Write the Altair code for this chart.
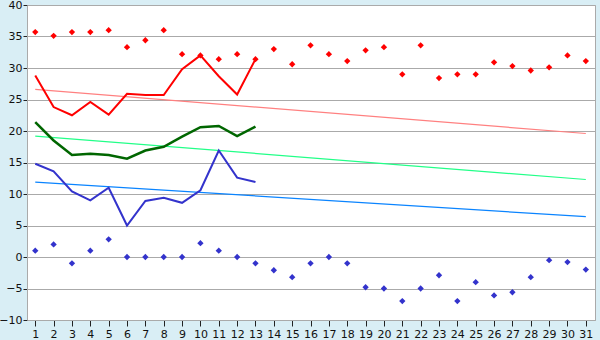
import altair as alt
import pandas as pd

days = list(range(1, 32))
rec_max = [35.7, 35.1, 35.7, 35.7, 36.0, 33.3, 34.4, 36.0, 32.2, 32.0, 31.4, 32.2, 31.4,
           33.0, 30.6, 33.6, 32.2, 31.1, 32.8, 33.3, 29.0, 33.6, 28.4, 29.0, 29.0, 30.9,
           30.3, 29.6, 30.1, 32.0, 31.1]
rec_min = [1.0, 2.0, -1.0, 1.0, 2.8, 0.0, 0.0, 0.0, 0.0, 2.2, 1.0, 0.0, -1.0,
           -2.1, -3.2, -1.0, 0.0, -1.0, -4.8, -5.0, -7.0, -5.0, -2.9, -7.0, -4.0, -6.1,
           -5.6, -3.2, -0.5, -0.8, -2.0]
obs_days = list(range(1, 14))
obs_max = [28.8, 23.8, 22.5, 24.6, 22.6, 25.9, 25.7, 25.7, 29.8, 32.0, 28.7, 25.8, 31.4]
obs_mean = [21.4, 18.5, 16.2, 16.4, 16.2, 15.6, 16.9, 17.5, 19.1, 20.6, 20.8, 19.2, 20.7]
obs_min = [14.8, 13.6, 10.4, 9.0, 11.0, 5.0, 8.9, 9.4, 8.6, 10.6, 16.9, 12.6, 11.9]
trend_days = [1, 31]
trend_max = [26.6, 19.6]
trend_mean = [19.2, 12.3]
trend_min = [11.9, 6.4]

xs = alt.Scale(domain=[0.55, 31.5], nice=False, zero=False)
ys = alt.Scale(domain=[-10, 40], nice=False, zero=False)
xax = alt.Axis(values=days, grid=False, domain=True, domainColor="#AAAAAA", ticks=True,
               tickColor="#222222", tickSize=6, labelFont="DejaVu Sans", labelFontSize=11,
               labelColor="#111111", labelPadding=2, title=None, labelFlush=False)
yax = alt.Axis(values=list(range(-10, 45, 5)), grid=True, gridColor="#AAAAAA", domain=True,
               domainColor="#AAAAAA", ticks=True, tickColor="#222222", tickSize=4,
               labelFont="DejaVu Sans", labelFontSize=11, labelColor="#111111",
               labelPadding=1, title=None, format="d")

X = alt.X("day:Q", scale=xs, axis=xax)
Y = alt.Y("v:Q", scale=ys, axis=yax)


def df(x, y):
    return pd.DataFrame({"day": x, "v": y})


layers = []
# trend lines
for vals, col in [(trend_max, "#FF8080"), (trend_mean, "#22FF88"), (trend_min, "#0A84FF")]:
    layers.append(alt.Chart(df(trend_days, vals)).mark_line(color=col, strokeWidth=1.2)
                  .encode(x=X, y=Y))
# observed lines
for vals, col, w in [(obs_max, "#FF0000", 2), (obs_mean, "#006600", 2.5), (obs_min, "#3333CC", 2)]:
    layers.append(alt.Chart(df(obs_days, vals)).mark_line(color=col, strokeWidth=w)
                  .encode(x=X, y=Y))
# record points
for vals, col in [(rec_max, "#FF0000"), (rec_min, "#3333CC")]:
    layers.append(alt.Chart(df(days, vals)).mark_point(shape="diamond", filled=True, size=40,
                                                       color=col, opacity=1)
                  .encode(x=X, y=Y))

chart = alt.layer(*layers).properties(
    width=568, height=315,
    autosize=alt.AutoSizeParams(type="none"),
    padding={"left": 27, "top": 5, "right": 5, "bottom": 20},
    background="#D9EEF5",
).configure_view(fill="white", stroke="#AAAAAA", strokeWidth=1)

chart.save("out.html", embed_options={"renderer": "svg", "actions": False})
